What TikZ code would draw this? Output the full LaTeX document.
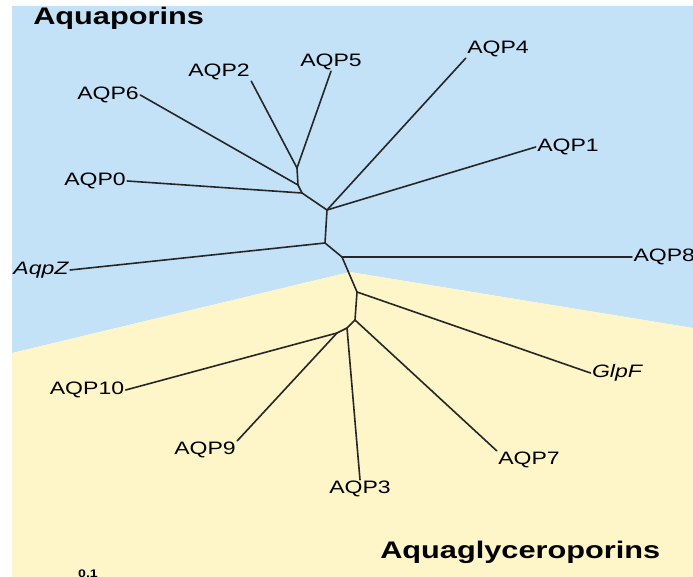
\documentclass[tikz,border=0pt]{standalone}
\usepackage{fontspec}
\setmainfont{Liberation Sans}
\definecolor{poreblue}{RGB}{196,226,247}
\definecolor{glycyellow}{RGB}{254,245,200}
\begin{document}
\begin{tikzpicture}[x=1pt, y=-1pt]
    % Stijlen definiëren
    \tikzstyle{leaf} = [font=\fontsize{18}{20}\selectfont, xscale=1.28, inner sep=1pt]
    \tikzstyle{group} = [font=\bfseries\fontsize{24}{28}\selectfont, xscale=1.28, inner sep=0pt]
    \tikzstyle{branch} = [line width=1.6pt, draw=black!85, line cap=round]

    % Achtergrond
    \useasboundingbox (0,0) rectangle (693,577);
    \fill[white] (0,0) rectangle (693,577);
    \fill[poreblue] (12,6) -- (693,6) -- (693,328) -- (350,272) -- (12,353) -- cycle;
    \fill[glycyellow] (12,353) -- (350,272) -- (693,328) -- (693,577) -- (12,577) -- cycle;

    % Groepsnamen
    \node[group, anchor=base west] (pores) at (33,25) {Aquaporins};
    \node[group, anchor=base west] (glycs) at (380,558) {Aquaglyceroporins};
    \node[leaf, font=\bfseries\fontsize{11}{12}\selectfont, anchor=north] (scale) at (88,569) {0.1};

    % Vertakkingspunten
    \coordinate (n1) at (297,168);
    \coordinate (n2) at (298,185);
    \coordinate (n3) at (302,193);
    \coordinate (n4) at (327,210);
    \coordinate (n5) at (325,243);
    \coordinate (n6) at (342,257);
    \coordinate (n7) at (357,292);
    \coordinate (n8) at (355,320);
    \coordinate (n9) at (347,328);
    \coordinate (n10) at (337,333);

    % Bladeren
    \node[leaf] (aqp2) at (219,72) {AQP2};
    \node[leaf] (aqp5) at (331,62) {AQP5};
    \node[leaf] (aqp4) at (498,49) {AQP4};
    \node[leaf] (aqp6) at (108,95) {AQP6};
    \node[leaf] (aqp0) at (95,181) {AQP0};
    \node[leaf] (aqp1) at (568,147) {AQP1};
    \node[leaf, anchor=west] (aqp8) at (632,257) {AQP8};
    \node[leaf] (aqpz) at (41,270) {\itshape AqpZ};
    \node[leaf] (glpf) at (617,373) {\itshape GlpF};
    \node[leaf] (aqp10) at (87,390) {AQP10};
    \node[leaf] (aqp9) at (205,450) {AQP9};
    \node[leaf] (aqp7) at (529,460) {AQP7};
    \node[leaf] (aqp3) at (360,489) {AQP3};

    % Takken
    \draw[branch] (aqp2.south east) -- (n1) -- (aqp5.south);
    \draw[branch] (n1) -- (n2) -- (aqp6.east);
    \draw[branch] (n2) -- (n3) -- (aqp0.east);
    \draw[branch] (n3) -- (n4) -- (aqp4.south west);
    \draw[branch] (n4) -- (aqp1.west);
    \draw[branch] (n4) -- (n5) -- (aqpz.east);
    \draw[branch] (n5) -- (n6) -- (aqp8.west);
    \draw[branch] (n6) -- (n7) -- (glpf.west);
    \draw[branch] (n7) -- (n8) -- (aqp7.north west);
    \draw[branch] (n8) -- (n9) -- (aqp3.north);
    \draw[branch] (n9) -- (n10) -- (aqp10.east);
    \draw[branch] (n10) -- (aqp9.north east);

\end{tikzpicture}
\end{document}
